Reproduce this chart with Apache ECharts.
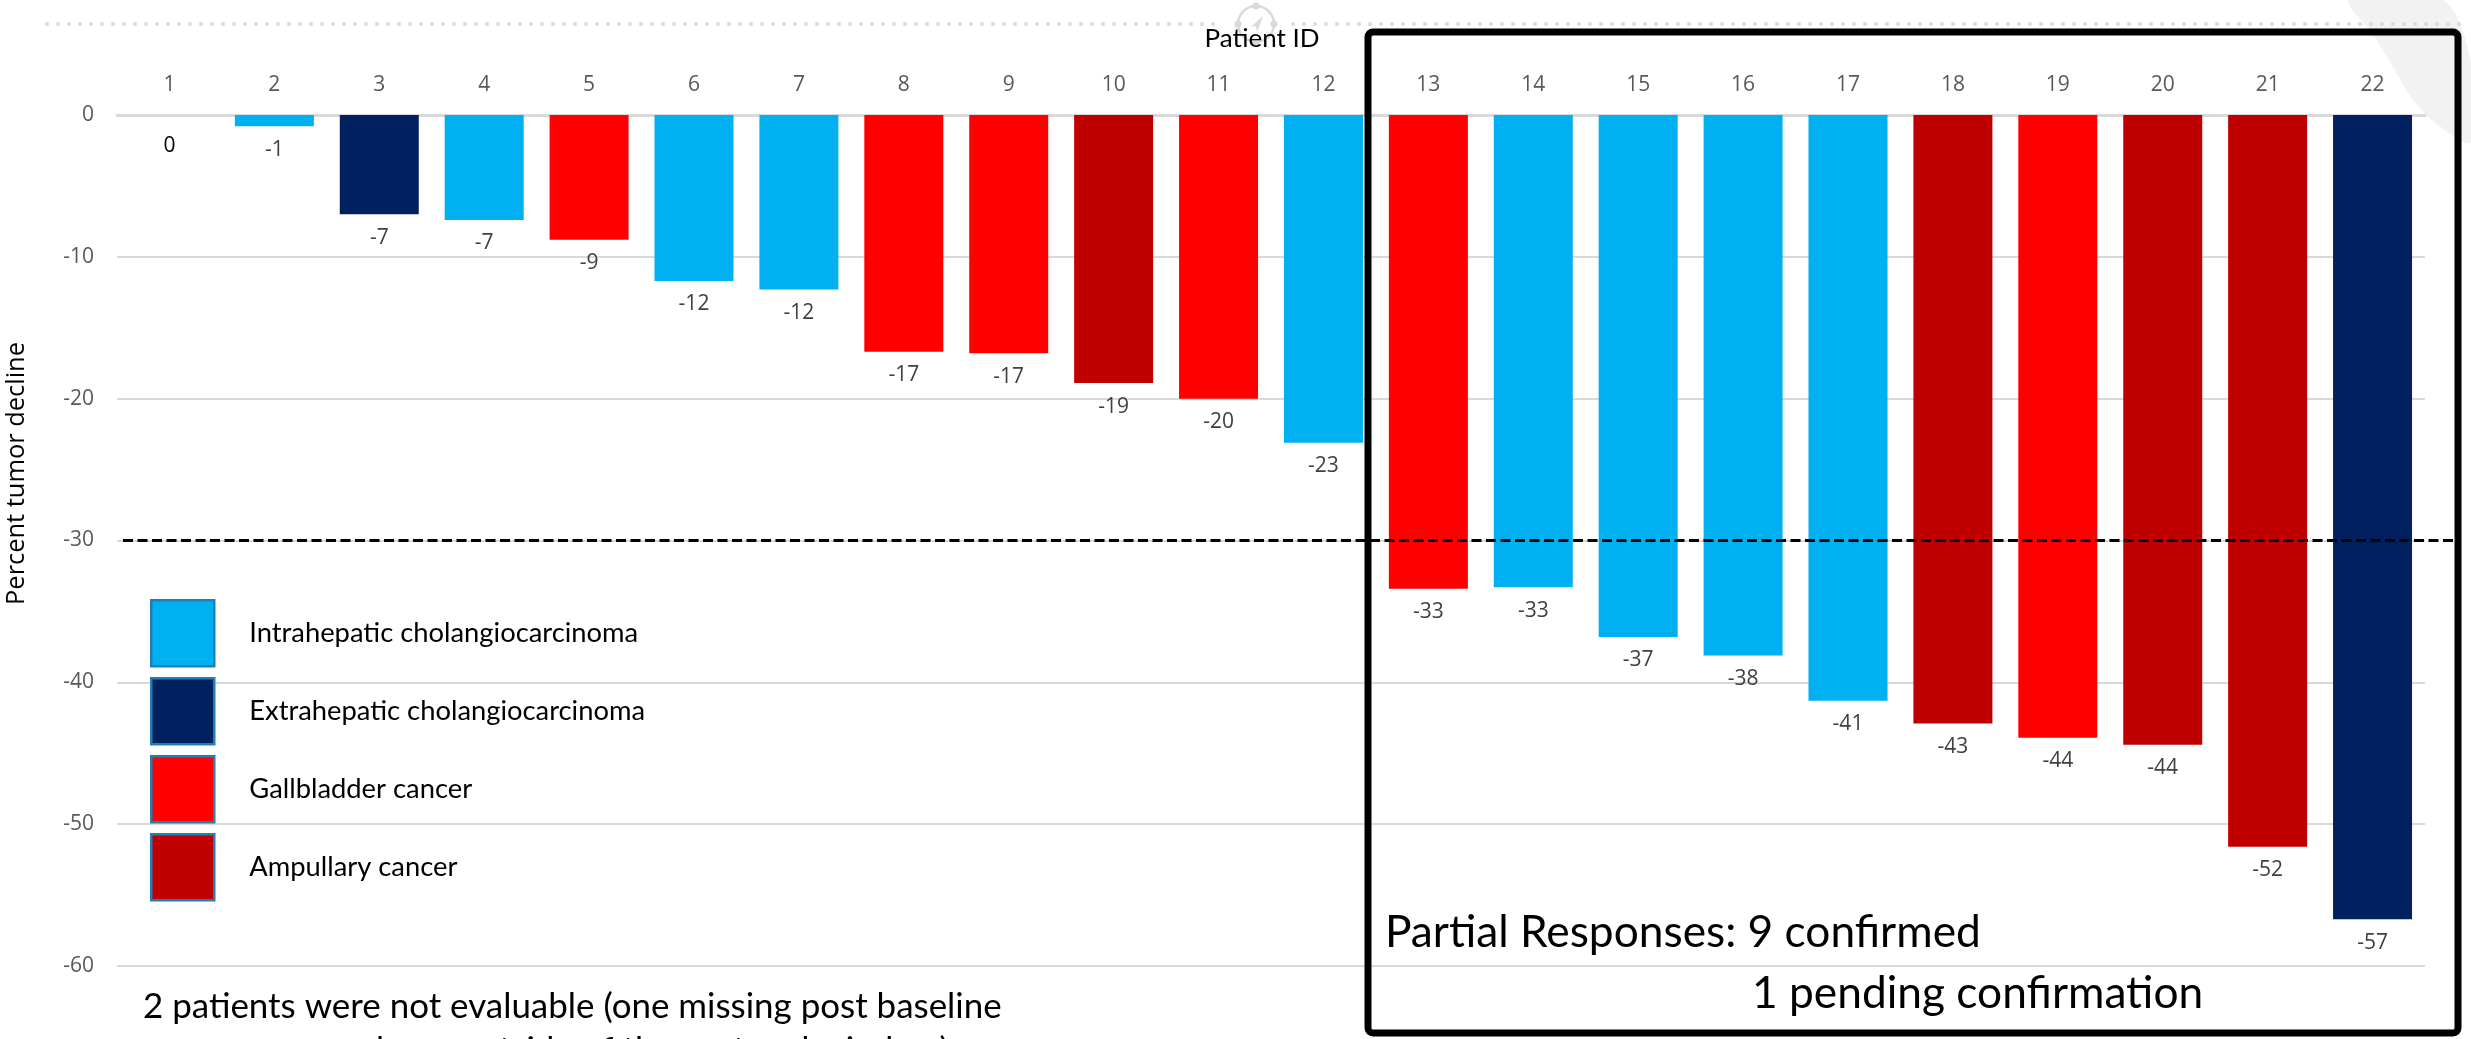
<!DOCTYPE html>
<html>
<head>
<meta charset="utf-8">
<title>Percent tumor decline by patient</title>
<script src="https://cdn.jsdelivr.net/npm/echarts@6/dist/echarts.min.js"></script>
<style>
  html, body { margin: 0; padding: 0; background: #ffffff; }
  #chart { width: 2471px; height: 1039px; }
</style>
</head>
<body>
<div id="chart"></div>
<script>
// Patients on the x axis
const patientIds = ['1','2','3','4','5','6','7','8','9','10','11','12','13','14','15','16','17','18','19','20','21','22'];
// Best percent change in tumor size per patient
const tumorChange = [0, -0.8, -7.0, -7.4, -8.8, -11.7, -12.3, -16.7, -16.8, -18.9, -20.0, -23.1,
                     -33.4, -33.3, -36.8, -38.1, -41.3, -42.9, -43.9, -44.4, -51.6, -56.7];
// Tumor type of each patient (null = not classified)
const tumorType = [null, 'Intrahepatic cholangiocarcinoma', 'Extrahepatic cholangiocarcinoma',
  'Intrahepatic cholangiocarcinoma', 'Gallbladder cancer', 'Intrahepatic cholangiocarcinoma',
  'Intrahepatic cholangiocarcinoma', 'Gallbladder cancer', 'Gallbladder cancer', 'Ampullary cancer',
  'Gallbladder cancer', 'Intrahepatic cholangiocarcinoma', 'Gallbladder cancer',
  'Intrahepatic cholangiocarcinoma', 'Intrahepatic cholangiocarcinoma', 'Intrahepatic cholangiocarcinoma',
  'Intrahepatic cholangiocarcinoma', 'Ampullary cancer', 'Gallbladder cancer', 'Ampullary cancer',
  'Ampullary cancer', 'Extrahepatic cholangiocarcinoma'];
// Tumor types and their colours
const typeNames = ['Intrahepatic cholangiocarcinoma', 'Extrahepatic cholangiocarcinoma', 'Gallbladder cancer', 'Ampullary cancer'];
const typeColors = ['#00B0F0', '#002060', '#FF0000', '#C00000'];
// Y axis ticks and response threshold
const yTicks = { min: -60, max: 0, step: 10 };
const responseThreshold = -30;

// Annotation texts
const noteConfirmed = 'Partial Responses: 9 confirmed';
const notePending = '1 pending confirmation';
const noteLine1 = '2 patients were not evaluable (one missing post baseline';
const noteLine2 = 'scan and one outside of the protocol window)';

const SEG = "'Open Sans', 'Noto Sans', sans-serif";
const CAL = "Lato, 'Open Sans', sans-serif";

// font size at which a string spans the given width
const measureCtx = document.createElement('canvas').getContext('2d');
function sizeForWidth(text, family, width) {
  measureCtx.font = '100px ' + family;
  return 100 * width / measureCtx.measureText(text).width;
}

const legendFont = sizeForWidth(typeNames[0], CAL, 389);
const axisNameFont = sizeForWidth('Patient ID', CAL, 115);
const yNameFont = sizeForWidth('Percent tumor decline', SEG, 263);
const boxFont = sizeForWidth(noteConfirmed, CAL, 596);
const noteFont = sizeForWidth(noteLine1, CAL, 859);

const chart = echarts.init(document.getElementById('chart'), null, { renderer: 'canvas' });

const labelCommon = {
  show: true,
  position: 'bottom',
  distance: 13,
  fontFamily: SEG,
  fontSize: 21,
  color: '#404040',
  formatter: p => String(Math.round(p.value))
};

const series = typeNames.map((name, k) => ({
  name: name,
  type: 'bar',
  barWidth: 79,
  barGap: '-100%',
  itemStyle: { color: typeColors[k] },
  label: labelCommon,
  data: tumorChange.map((v, i) => (tumorType[i] === name ? v : '-'))
}));

// patient without a classified tumor type
series.push({
  name: 'Not classified',
  type: 'bar',
  barWidth: 79,
  barGap: '-100%',
  itemStyle: { color: '#7f7f7f' },
  label: Object.assign({}, labelCommon, { color: '#000000', distance: 21 }),
  data: tumorChange.map((v, i) => (tumorType[i] === null ? v : '-'))
});

const option = {
  backgroundColor: '#ffffff',
  animation: false,
  grid: { left: 117, right: 46, top: 115, bottom: 73, containLabel: false, outerBoundsMode: 'none' },
  legend: {
    data: typeNames,
    orient: 'vertical',
    left: 145,
    top: 594,
    icon: 'rect',
    itemWidth: 63,
    itemHeight: 66,
    itemGap: 9.5,
    itemStyle: { borderColor: '#1F7FB8', borderWidth: 2.5 },
    textStyle: { fontFamily: CAL, fontSize: legendFont, color: '#000000', padding: [0, 0, 0, 30] }
  },
  xAxis: {
    type: 'category',
    position: 'top',
    data: patientIds,
    name: 'Patient ID',
    nameLocation: 'middle',
    nameGap: 63,
    nameTextStyle: { fontFamily: CAL, fontSize: axisNameFont, color: '#000000', padding: [0, 18, 0, 0] },
    axisLine: { show: true, onZero: false, lineStyle: { color: '#d9d9d9', width: 3 } },
    axisTick: { show: false },
    axisLabel: { fontFamily: SEG, fontSize: 21, color: '#595959', margin: 19 }
  },
  yAxis: {
    type: 'value',
    min: yTicks.min,
    max: yTicks.max,
    interval: yTicks.step,
    name: 'Percent tumor decline',
    nameLocation: 'middle',
    nameRotate: 90,
    nameGap: 88,
    nameTextStyle: { fontFamily: SEG, fontSize: yNameFont, color: '#000000', padding: [0, 0, 0, 134] },
    axisLine: { show: false },
    axisTick: { show: false },
    axisLabel: { fontFamily: SEG, fontSize: 21, color: '#595959', margin: 23 },
    splitLine: { lineStyle: { color: '#d9d9d9', width: 2 } }
  },
  series: series
};

chart.setOption(option);

// Threshold line position comes from the value axis
const thresholdY = chart.convertToPixel({ yAxisIndex: 0 }, responseThreshold);

chart.setOption({
  graphic: {
    elements: [
      // light decorative swoosh, top right
      {
        type: 'polygon', z: -5, silent: true,
        shape: { points: [[2349, 0], [2372, 33], [2393, 67], [2413, 100], [2438, 125], [2471, 142], [2471, 62], [2443, 0]], smooth: 0.3 },
        style: { fill: '#f2f2f2' }
      },
      // dotted rule along the top
      {
        type: 'line', z: -4, silent: true,
        shape: { x1: 47, y1: 24, x2: 1215, y2: 24 },
        style: { stroke: '#d9d9d9', lineWidth: 4, lineDash: [0, 11], lineCap: 'round' }
      },
      {
        type: 'line', z: -4, silent: true,
        shape: { x1: 1293, y1: 24, x2: 2462, y2: 24 },
        style: { stroke: '#d9d9d9', lineWidth: 4, lineDash: [0, 11], lineCap: 'round' }
      },
      // small compass mark on the rule
      {
        type: 'circle', z: -4, silent: true,
        shape: { cx: 1256, cy: 24, r: 18 },
        style: { fill: 'none', stroke: '#d9d9d9', lineWidth: 2.5 }
      },
      { type: 'circle', z: -4, silent: true, shape: { cx: 1256, cy: 6, r: 3.5 }, style: { fill: '#d9d9d9' } },
      { type: 'circle', z: -4, silent: true, shape: { cx: 1256, cy: 42, r: 3.5 }, style: { fill: '#d9d9d9' } },
      { type: 'circle', z: -4, silent: true, shape: { cx: 1238, cy: 24, r: 3.5 }, style: { fill: '#d9d9d9' } },
      { type: 'circle', z: -4, silent: true, shape: { cx: 1274, cy: 24, r: 3.5 }, style: { fill: '#d9d9d9' } },
      {
        type: 'polygon', z: -4, silent: true,
        shape: { points: [[1263, 16], [1251, 27], [1256, 26], [1257, 32]] },
        style: { fill: '#d9d9d9' }
      },
      // partial response threshold
      {
        type: 'line', z: 20, silent: true,
        shape: { x1: 123, y1: thresholdY, x2: 2455, y2: thresholdY },
        style: { stroke: '#000000', lineWidth: 3, lineDash: [10, 4.5] }
      },
      // frame around the responders
      {
        type: 'rect', z: 21, silent: true,
        shape: { x: 1368, y: 32, width: 1090, height: 1001, r: 5 },
        style: { fill: 'none', stroke: '#000000', lineWidth: 7 }
      },
      {
        type: 'text', z: 22, silent: true,
        x: 1385, y: 933,
        style: { text: noteConfirmed, fontFamily: CAL, fontSize: boxFont, fill: '#000000', verticalAlign: 'middle', align: 'left' }
      },
      {
        type: 'text', z: 22, silent: true,
        x: 1752, y: 994,
        style: { text: notePending, fontFamily: CAL, fontSize: boxFont, fill: '#000000', verticalAlign: 'middle', align: 'left' }
      },
      {
        type: 'text', z: 22, silent: true,
        x: 143, y: 1007,
        style: { text: noteLine1, fontFamily: CAL, fontSize: noteFont, fill: '#000000', verticalAlign: 'middle', align: 'left' }
      },
      {
        type: 'text', z: 22, silent: true,
        x: 250, y: 1051,
        style: { text: noteLine2, fontFamily: CAL, fontSize: noteFont, fill: '#000000', verticalAlign: 'middle', align: 'left' }
      }
    ]
  }
});
</script>
</body>
</html>
